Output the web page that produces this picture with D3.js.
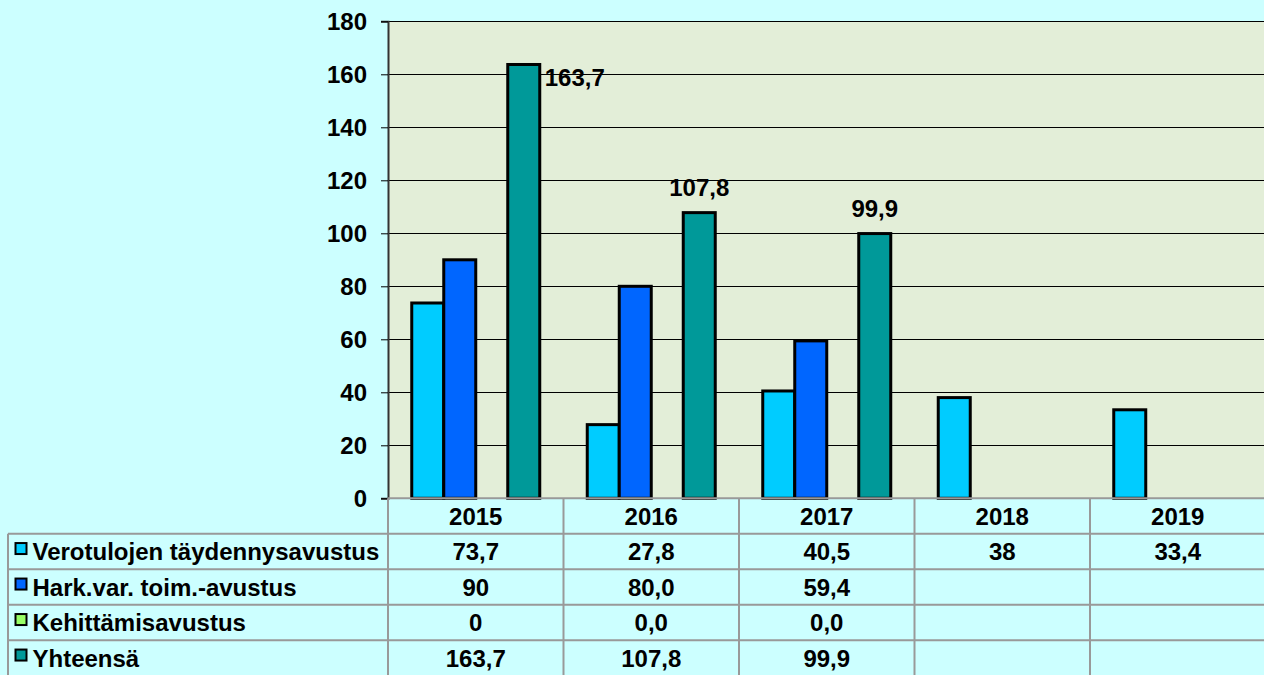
<!DOCTYPE html>
<html>
<head>
<meta charset="utf-8">
<script src="https://cdn.jsdelivr.net/npm/d3@7"></script>
<style>
  html, body { margin: 0; padding: 0; background: #CCFFFF; overflow: hidden; }
  svg { display: block; font-family: Arial, "Liberation Sans", sans-serif; font-weight: bold; }
</style>
</head>
<body>
<div class="chart"></div>
<script>
const years = ["2015", "2016", "2017", "2018", "2019"];
const seriesNames = ["Verotulojen täydennysavustus", "Hark.var. toim.-avustus", "Kehittämisavustus", "Yhteensä"];
const seriesColors = ["#00CCFF", "#0066FF", "#99FF66", "#009999"];
const verotulojen = [73.7, 27.8, 40.5, 38, 33.4];
const hark = [90, 80.0, 59.4, null, null];
const kehittamis = [0, 0, 0, null, null];
const yhteensa = [163.7, 107.8, 99.9, null, null];
const tableLabels = [
  ["73,7", "27,8", "40,5", "38", "33,4"],
  ["90", "80,0", "59,4", "", ""],
  ["0", "0,0", "0,0", "", ""],
  ["163,7", "107,8", "99,9", "", ""]
];
const yTicks = [0, 20, 40, 60, 80, 100, 120, 140, 160, 180];

const w = 1264, h = 675;
const plotLeft = 388, plotRight = 1265.5, plotTop = 21.3, plotBottom = 498.3;
const rowH = 35.5;
const fs = 24;

const allSeries = [verotulojen, hark, kehittamis, yhteensa];

const svg = d3.select(".chart").append("svg")
  .attr("width", w).attr("height", h);

const x = d3.scaleBand().domain(years).range([plotLeft, plotRight]).padding(0);
const xInner = d3.scaleBand().domain(d3.range(4))
  .range([23.75, x.bandwidth() - 23.75]).padding(0);
const y = d3.scaleLinear().domain([0, 180]).range([plotBottom, plotTop]);

// plot area
svg.append("rect")
  .attr("x", plotLeft).attr("y", plotTop)
  .attr("width", plotRight - plotLeft).attr("height", plotBottom - plotTop)
  .attr("fill", "#E3EED8");

// gridlines
svg.append("g")
  .selectAll("line")
  .data(yTicks.filter(d => d > 0))
  .enter().append("line")
  .attr("x1", plotLeft).attr("x2", plotRight)
  .attr("y1", d => Math.round(y(d)) + 0.5).attr("y2", d => Math.round(y(d)) + 0.5)
  .attr("stroke", "#000").attr("stroke-width", 1);

// y axis
const yAxis = svg.append("g")
  .attr("transform", `translate(${plotLeft},0)`)
  .call(d3.axisLeft(y).tickValues(yTicks).tickSize(7).tickPadding(14));
yAxis.select(".domain").attr("stroke", "#333").attr("stroke-width", 2);
yAxis.selectAll(".tick line").attr("stroke", "#000");
yAxis.selectAll(".tick text")
  .attr("font-size", fs).attr("font-weight", "bold")
  .attr("font-family", "Arial, 'Liberation Sans', sans-serif")
  .attr("fill", "#000").attr("dy", "0.36em");

// bars
const barData = [];
years.forEach((yr, i) => {
  allSeries.forEach((s, j) => {
    if (s[i] != null && s[i] > 0) barData.push({ yr, j, v: s[i] });
  });
});

svg.append("g")
  .selectAll("rect")
  .data(barData)
  .enter().append("rect")
  .attr("x", d => x(d.yr) + xInner(d.j))
  .attr("y", d => y(d.v))
  .attr("width", xInner.bandwidth())
  .attr("height", d => y(0) - y(d.v))
  .attr("fill", d => seriesColors[d.j])
  .attr("stroke", "#000")
  .attr("stroke-width", 3);

// data labels for Yhteensä
const totLabels = years.map((yr, i) => ({ yr, v: yhteensa[i], t: tableLabels[3][i] }))
  .filter(d => d.v != null);
svg.append("g")
  .selectAll("text")
  .data(totLabels)
  .enter().append("text")
  .attr("x", (d, i) => i === 0 ? x(d.yr) + xInner(3) + xInner.bandwidth() + 5
                               : x(d.yr) + xInner(3) + xInner.bandwidth() / 2)
  .attr("y", (d, i) => i === 0 ? y(d.v) + 22 : y(d.v) - 17)
  .attr("text-anchor", (d, i) => i === 0 ? "start" : "middle")
  .attr("font-size", fs)
  .attr("fill", "#000")
  .text(d => d.t);

// data table
const tbl = svg.append("g");
const tableTop = plotBottom;
const tableLeft = 8;

// horizontal lines
for (let r = 1; r <= 4; r++) {
  tbl.append("line")
    .attr("x1", tableLeft).attr("x2", w)
    .attr("y1", tableTop + r * rowH).attr("y2", tableTop + r * rowH)
    .attr("stroke", "#999").attr("stroke-width", 2);
}
tbl.append("line")
  .attr("x1", plotLeft).attr("x2", w)
  .attr("y1", tableTop).attr("y2", tableTop)
  .attr("stroke", "#999").attr("stroke-width", 2);
// vertical lines
tbl.append("line")
  .attr("x1", tableLeft).attr("x2", tableLeft)
  .attr("y1", tableTop + rowH).attr("y2", h)
  .attr("stroke", "#999").attr("stroke-width", 2);
years.forEach(yr => {
  tbl.append("line")
    .attr("x1", x(yr)).attr("x2", x(yr))
    .attr("y1", tableTop).attr("y2", h)
    .attr("stroke", "#999").attr("stroke-width", 2);
});

// year header
tbl.selectAll("text.year")
  .data(years)
  .enter().append("text")
  .attr("class", "year")
  .attr("x", d => x(d) + x.bandwidth() / 2)
  .attr("y", tableTop + rowH / 2)
  .attr("dy", "0.36em")
  .attr("text-anchor", "middle")
  .attr("font-size", fs)
  .text(d => d);

// rows
seriesNames.forEach((name, j) => {
  const cy = tableTop + (j + 1) * rowH + rowH / 2;
  tbl.append("rect")
    .attr("x", 15.5).attr("y", cy - 8.5)
    .attr("width", 11).attr("height", 11)
    .attr("fill", seriesColors[j])
    .attr("stroke", "#000").attr("stroke-width", 2);
  tbl.append("text")
    .attr("x", 32.5).attr("y", cy)
    .attr("dy", "0.36em")
    .attr("font-size", fs)
    .text(name);
  tbl.selectAll(null)
    .data(tableLabels[j])
    .enter().append("text")
    .attr("x", (d, i) => x(years[i]) + x.bandwidth() / 2)
    .attr("y", cy)
    .attr("dy", "0.36em")
    .attr("text-anchor", "middle")
    .attr("font-size", fs)
    .text(d => d);
});
</script>
</body>
</html>
